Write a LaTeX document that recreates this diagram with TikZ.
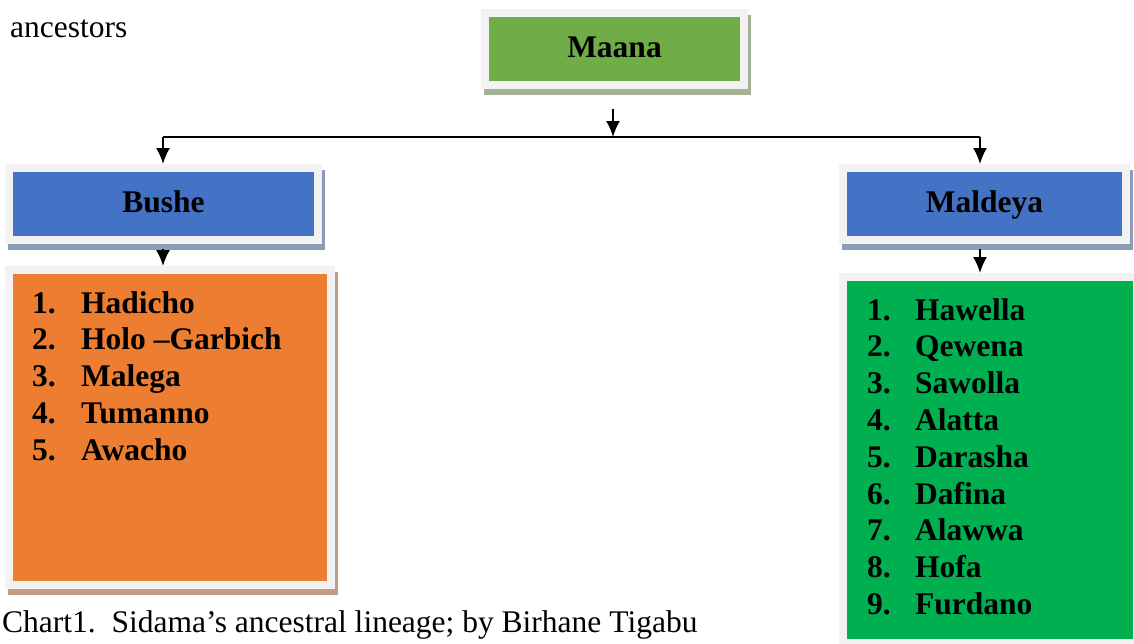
\documentclass[tikz,border=0pt]{standalone}
\usepackage{fontspec}
\setmainfont{Liberation Serif}
\usetikzlibrary{arrows.meta,positioning,calc}
\definecolor{framegray}{HTML}{F2F2F2}
\definecolor{maanagreen}{HTML}{70AD47}
\definecolor{headblue}{HTML}{4472C4}
\definecolor{listorange}{HTML}{ED7D31}
\definecolor{listgreen}{HTML}{00B050}
\definecolor{greenshade}{HTML}{A3B296}
\definecolor{blueshade}{HTML}{8C9BB6}
\definecolor{orangeshade}{HTML}{C49C83}
\tikzset{%
    >={Latex[width=14pt,length=16pt]},
    % Specifications for style of boxes and texts:
    panel/.style = {
        rectangle, draw=framegray, line width=8pt,
        inner sep=0pt, text centered,
        font=\fontsize{31.5}{37}\selectfont\bfseries,
        text height=22pt, text depth=6pt
    },
    shade/.style = {
        preaction={draw=#1, fill=#1, line width=8pt,
            transform canvas={shift={(3pt,-6pt)}}}
    },
    head/.style = {panel, shade=blueshade, fill=headblue, minimum height=72pt},
    listtext/.style = {
        inner sep=0pt, anchor=base west,
        font=\fontsize{31.5}{36.8}\selectfont\bfseries
    },
    plaintext/.style = {inner sep=0pt, font=\fontsize{31.5}{37}\selectfont},
    link/.style = {line width=1.8pt}
}
\begin{document}
\begin{tikzpicture}[x=1pt, y=-1pt]
\useasboundingbox (0,0) rectangle (1134,643);
% Specification of boxes
\node (maana)    [panel, shade=greenshade, fill=maanagreen,
                  minimum width=259pt, minimum height=72pt] at (614.5,49) {Maana};
\node (bushe)    [head, minimum width=309pt] at (163.5,204) {Bushe};
\node (maldeya)  [head, minimum width=283pt] at (984.5,204) {Maldeya};
\node (bushebox) [panel, shade=orangeshade, fill=listorange,
                  minimum width=322pt, minimum height=315pt] at (170,427.5) {};
\node (maldbox)  [panel, fill=listgreen,
                  minimum width=294pt, minimum height=366pt] at (990,460) {};
% Specification of lists and texts
\node (bushelist) [listtext] at (32,313) {%
    \begin{tabular}[t]{@{}p{49pt}@{}l@{}}
    1. & Hadicho\\ 2. & Holo –Garbich\\ 3. & Malega\\ 4. & Tumanno\\ 5. & Awacho
    \end{tabular}};
\node (maldlist)  [listtext] at (867,320) {%
    \begin{tabular}[t]{@{}p{48pt}@{}l@{}}
    1. & Hawella\\ 2. & Qewena\\ 3. & Sawolla\\ 4. & Alatta\\ 5. & Darasha\\
    6. & Dafina\\ 7. & Alawwa\\ 8. & Hofa\\ 9. & Furdano
    \end{tabular}};
\node (ancestors) [plaintext, anchor=base west] at (10,37) {ancestors};
\node (caption)   [plaintext, anchor=base west] at (2,632)
    {Chart1.\ \ Sidama’s ancestral lineage; by Birhane Tigabu};
% Specification of paths
\coordinate (split)    at (613,137);
\coordinate (leftend)  at (163,137);
\coordinate (rightend) at (980,137);
\draw[link, ->] ([yshift=-20pt]maana.south -| split) -- (split);
\draw[link] (leftend) -- (rightend);
\draw[link, ->] (leftend) -- (leftend |- bushe.north);
\draw[link, ->] (rightend) -- (rightend |- maldeya.north);
\draw[link, ->] ([yshift=-5pt]leftend |- bushe.south) -- (leftend |- bushebox.north);
\draw[link, ->] ([yshift=-5pt]rightend |- maldeya.south) -- (rightend |- maldbox.north);
\end{tikzpicture}
\end{document}
